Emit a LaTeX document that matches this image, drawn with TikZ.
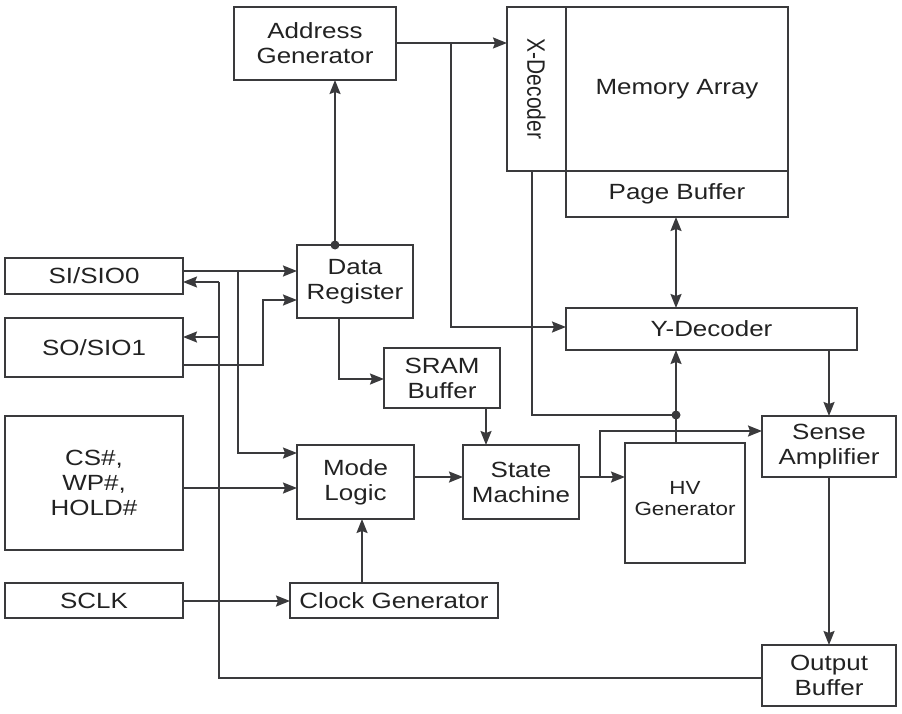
\documentclass[tikz,border=0pt]{standalone}
\usepackage{fontspec}
\setmainfont{Liberation Sans}[FakeStretch=1.18]
\newfontfamily\plainsans{Liberation Sans}
\usetikzlibrary{arrows.meta}
\definecolor{ln}{HTML}{3A3A3C}
\definecolor{tx}{HTML}{222222}
\begin{document}
\begin{tikzpicture}[x=1pt,y=-1pt,
  box/.style={draw=ln,line width=2pt,inner sep=0pt,outer sep=0pt,anchor=north west,
    align=center,text=tx,font=\fontsize{22}{25}\selectfont},
  wire/.style={draw=ln,line width=1.8pt},
  arr/.style={wire,-{Stealth[length=14pt,width=11pt,inset=2pt]}},
  arrboth/.style={wire,{Stealth[length=14pt,width=11pt,inset=2pt]}-{Stealth[length=14pt,width=11pt,inset=2pt]}},
  dot/.style={fill=ln}]
\useasboundingbox (0,0) rectangle (902,714);
% boxes
\node[box,minimum width=162pt,minimum height=73pt] (ag) at (234,7) {Address\\Generator};
\node[box,minimum width=59pt,minimum height=164pt,font=\plainsans\fontsize{21}{25}\selectfont] (xd) at (507,7) {\rotatebox{-90}{\scalebox{1}[1.2]{X-Decoder}}};
\node[box,minimum width=222pt,minimum height=164pt] (ma) at (566,7) {Memory Array};
\node[box,minimum width=222pt,minimum height=46pt] (pb) at (566,171) {Page Buffer};
\node[box,minimum width=178pt,minimum height=36pt] (si) at (5,258) {SI/SIO0};
\node[box,minimum width=178pt,minimum height=59pt] (so) at (5,318) {SO/SIO1};
\node[box,minimum width=116pt,minimum height=73pt] (dr) at (297,245) {Data\\Register};
\node[box,minimum width=116pt,minimum height=60pt] (sram) at (384,348) {SRAM\\Buffer};
\node[box,minimum width=291pt,minimum height=42pt] (yd) at (566,308) {Y-Decoder};
\node[box,minimum width=134pt,minimum height=61pt] (sa) at (762,416) {Sense\\Amplifier};
\node[box,minimum width=178pt,minimum height=134pt] (cs) at (5,416) {CS\#,\\WP\#,\\HOLD\#};
\node[box,minimum width=117pt,minimum height=74pt] (ml) at (297,445) {Mode\\Logic};
\node[box,minimum width=116pt,minimum height=74pt] (sm) at (463,445) {State\\Machine};
\node[box,minimum width=120pt,minimum height=120pt,font=\fontsize{19}{21}\selectfont] (hv) at (625,443) {HV\\Generator\\[-11pt]};
\node[box,minimum width=178pt,minimum height=35pt] (sclk) at (5,583) {SCLK};
\node[box,minimum width=208pt,minimum height=35pt] (cg) at (290,583) {Clock Generator};
\node[box,minimum width=134pt,minimum height=61pt] (ob) at (762,645) {Output\\Buffer};
% heavier inner edges of the memory array
\draw[ln,line width=2.6pt] (ma.north west) -- (ma.south west) -- (ma.south east);
% bend / junction coordinates
\coordinate (j1) at (335,245);
\coordinate (j2) at (676,415);
\coordinate (b1) at (451,43);
\coordinate (b2) at (532,171);
\coordinate (b3) at (600,477);
\coordinate (b4) at (238,271);
\coordinate (b5) at (263,300);
\coordinate (b6) at (219,678);
\coordinate (b7) at (219,282);
\coordinate (b8) at (219,337);
\coordinate (b9) at (339,379);
\coordinate (b10) at (486,408);
\coordinate (b11) at (362,519);
% connectors
\draw[arr] (ag.east |- b1) -- (xd.west |- b1);
\draw[arr] (b1) |- (yd.west |- 0,327);
\draw[wire] (b2) |- (j2);
\draw[arrboth] (pb.south -| j2) -- (yd.north -| j2);
\draw[arr] (j2) -- (yd.south -| j2);
\draw[wire] (j2) -- (hv.north -| j2);
\draw[arr] (sa.north |- yd.south) -- (sa.north);
\draw[arr] (sm.east |- b3) -- (hv.west |- b3);
\draw[arr] (b3) |- (sa.west |- 0,431);
\draw[arr] (sa.south) -- (ob.north);
\draw[wire] (ob.west |- b6) -- (b6) -- (b7);
\draw[arr] (b7) -- (si.east |- b7);
\draw[arr] (b8) -- (so.east |- b8);
\draw[arr] (si.east |- b4) -- (dr.west |- b4);
\draw[arr] (b4) |- (ml.west |- 0,453);
\draw[arr] (so.east |- 0,365) -| (b5) -- (dr.west |- b5);
\draw[arr] (cs.east |- 0,488) -- (ml.west |- 0,488);
\draw[arr] (sclk.east |- 0,601) -- (cg.west |- 0,601);
\draw[arr] (cg.north -| b11) -- (b11);
\draw[arr] (dr.south -| b9) |- (sram.west |- b9);
\draw[arr] (b10) -- (sm.north -| b10);
\draw[arr] (ml.east |- b3) -- (sm.west |- b3);
\draw[arr] (j1) -- (ag.south -| j1);
\fill[dot] (j1) circle (4.5pt);
\fill[dot] (j2) circle (4.5pt);
\end{tikzpicture}
\end{document}
